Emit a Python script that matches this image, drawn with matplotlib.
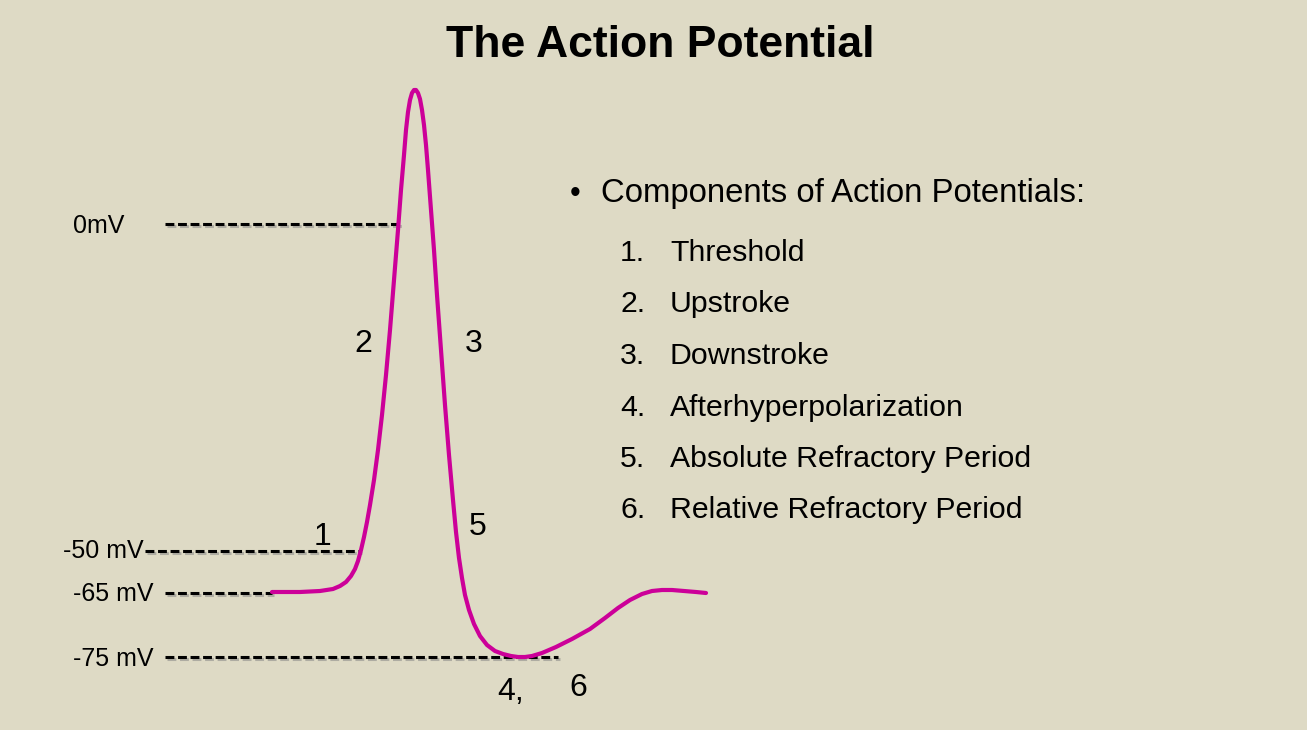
import numpy as np
import matplotlib
matplotlib.use("Agg")
import matplotlib.pyplot as plt
import matplotlib.patheffects as pe

plt.rcParams['font.family'] = ['Liberation Sans', 'DejaVu Sans']

# membrane trace, traced in screen units (x = time, y = level, down is negative)
trace_t = [272, 300, 320, 333, 340, 346, 351, 355, 358, 361, 364, 367, 370, 374,
           378, 382, 386, 390, 394, 398, 401, 404, 406, 408, 410, 412, 414, 416,
           418, 420, 422, 424, 426, 428, 431, 434, 437, 441, 445, 449, 453, 456,
           459, 462, 465, 469, 474, 480, 487, 495, 503, 511, 518, 525, 532, 542,
           556, 572, 590, 605, 618, 630, 642, 652, 662, 672, 684, 696, 706]
trace_v = [592, 592, 591, 589, 586, 582, 576, 569, 561, 550, 537, 522, 505, 480,
           450, 415, 375, 330, 280, 230, 190, 155, 130, 112, 100, 93, 90, 90,
           93, 99, 110, 125, 145, 170, 210, 250, 295, 350, 405, 455, 500, 532,
           558, 578, 595, 610, 624, 636, 645, 651, 654, 656, 657, 657, 656, 653,
           647, 639, 629, 618, 608, 600, 594, 591, 590, 590, 591, 592, 593]

# reference levels
level_names = ['0mV', '-50 mV', '-65 mV', '-75 mV']
level_y = [224, 551, 593, 657]
level_x0 = [165, 145, 165, 165]
level_x1 = [402, 360, 272, 558]
level_label_x = [73, 63, 73, 73]
level_label_base = [233, 558, 601, 666]

# phase markers on the trace
phase_marks = ['1', '2', '3', '5', '4,', '6']
phase_x = [323, 363, 474, 478, 511, 578]
phase_y = [545, 352, 352, 535, 700, 696]

components = ['Threshold', 'Upstroke', 'Downstroke', 'Afterhyperpolarization',
              'Absolute Refractory Period', 'Relative Refractory Period']

bg = '#DEDAC5'
fig = plt.figure(figsize=(13.07, 7.30), dpi=100, facecolor=bg)
ax = fig.add_axes([0, 0, 1, 1])
ax.set_facecolor(bg)
ax.set_xlim(0, 1307)
ax.set_ylim(730, 0)
ax.axis('off')

shadow = [pe.SimpleLineShadow(offset=(1.2, -1.2), shadow_color='gray', alpha=0.5), pe.Normal()]
for name, y, x0, x1, lx, lb in zip(level_names, level_y, level_x0, level_x1,
                                   level_label_x, level_label_base):
    ax.plot([x0, x1], [y, y], color='black', lw=2.2, dashes=(2.9, 1.2),
            path_effects=shadow, zorder=2)
    ax.text(lx, lb, name, fontsize=18, ha='left', va='baseline', color='black')

ax.plot(trace_t, trace_v, color='#CC0099', lw=3.0, solid_capstyle='round',
        solid_joinstyle='round', zorder=3)

for m, x, y in zip(phase_marks, phase_x, phase_y):
    ax.text(x, y, m, fontsize=23, ha='center', va='baseline', color='black')

ax.text(660, 57, 'The Action Potential', fontsize=32, fontweight='bold',
        ha='center', va='baseline', color='black')

ax.text(570, 202, '\u2022', fontsize=22, ha='left', va='baseline')
ax.text(601, 202, 'Components of Action Potentials:', fontsize=23.7,
        ha='left', va='baseline')
for i, c in enumerate(components):
    yb = 261 + i * 51.5
    ax.text(620, yb, f'{i + 1}.', fontsize=21.8, ha='left', va='baseline')
    ax.text(670, yb, c, fontsize=21.8, ha='left', va='baseline')

fig.savefig('out.png', dpi=100, facecolor=bg)
